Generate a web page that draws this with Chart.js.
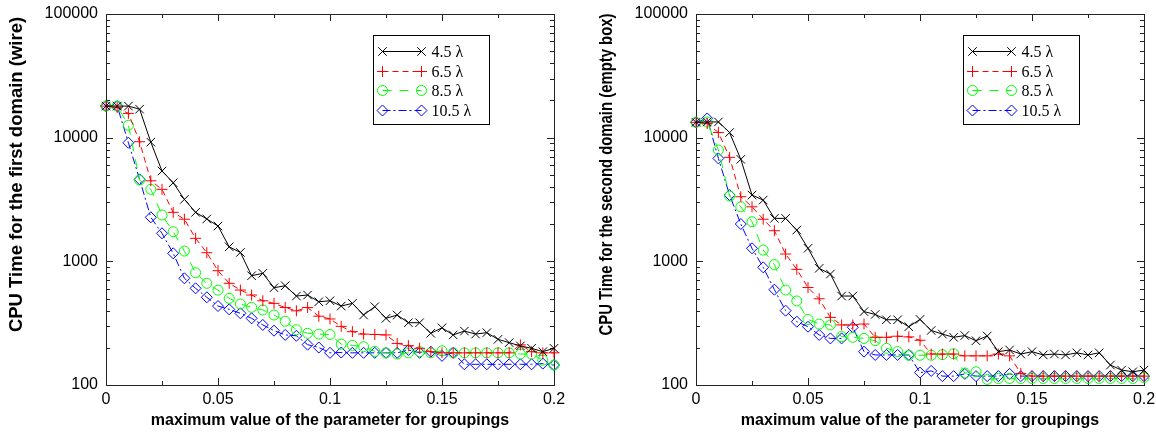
<!DOCTYPE html>
<html><head><meta charset="utf-8">
<script src="https://cdn.jsdelivr.net/npm/chart.js@4/dist/chart.umd.min.js"></script>
<style>
html,body{margin:0;padding:0;background:#fff;overflow:hidden;width:1156px;height:432px}
.box{position:absolute;top:0;width:566px;height:432px}
#b1{left:0}#b2{left:590px}
</style></head><body>
<div class="box" id="b1"><canvas id="c1" width="566" height="432"></canvas></div>
<div class="box" id="b2"><canvas id="c2" width="566" height="432"></canvas></div>
<script>
// ---- data ----
const xValues = [0,0.005,0.01,0.015,0.02,0.025,0.03,0.035,0.04,0.045,0.05,0.055,0.06,0.065,0.07,0.075,0.08,0.085,0.09,0.095,0.1,0.105,0.11,0.115,0.12,0.125,0.13,0.135,0.14,0.145,0.15,0.155,0.16,0.165,0.17,0.175,0.18,0.185,0.19,0.195,0.2];
const seriesNames = ['4.5 \u03bb','6.5 \u03bb','8.5 \u03bb','10.5 \u03bb'];
const wire45 = [18000,18000,18000,17000,9200,5370,4320,3170,2490,2200,1930,1310,1180,765,800,612,635,524,534,471,480,435,457,368,430,346,368,319,319,262,290,254,273,258,265,234,220,207,198,186,198];
const wire65 = [18000,17500,15700,9270,4480,3820,2490,2190,1535,1174,840,664,586,534,480,457,423,398,423,360,342,298,270,258,256,254,217,208,198,186,182,182,182,182,182,182,182,211,186,182,182];
const wire85 = [18000,18000,12600,4540,3820,2370,1735,1211,809,664,585,502,452,425,404,368,328,280,262,258,256,214,209,204,187,182,178,182,186,182,189,182,182,182,182,182,182,178,178,159,145];
const wire105 = [18000,18000,9100,4600,2270,1685,1161,729,605,512,435,409,380,346,306,275,254,250,212,201,182,183,182,182,182,182,182,192,182,186,172,182,147,147,147,147,147,147,147,149,145];
const box45 = [13300,13400,13400,11000,6680,3435,3130,2225,2225,1790,1274,878,789,524,524,392,372,337,337,296,339,276,258,243,251,228,249,186,192,178,186,175,178,175,182,175,182,145,132,128,132];
const box65 = [13300,13000,11000,6930,3330,2760,2190,1768,1146,861,614,498,352,306,306,311,243,243,248,245,230,178,178,178,172,172,172,178,172,124,118,118,118,118,118,118,118,118,118,118,118];
const box85 = [13300,13400,7940,3370,2760,2090,1234,940,586,478,339,311,306,246,243,238,228,198,186,174,174,174,176,179,125,128,111,113,113,113,113,113,113,113,113,113,113,113,113,113,115];
const box105 = [13300,14300,6800,3435,2003,1274,894,590,399,325,296,254,238,238,293,186,175,175,175,175,126,130,118,118,123,118,118,118,123,118,118,118,118,118,118,118,118,118,118,118,118];
const xTickValues = [0,0.05,0.1,0.15,0.2];
const xMinorTickValues = [0.025,0.075,0.125,0.175];
const yTickValues = [100,1000,10000,100000];
const xTitle = 'maximum value of the parameter for groupings';
const yTitle1 = 'CPU Time for the first domain (wire)';
const yTitle2 = 'CPU Time for the second domain (empty box)';

// ---- styles ----
const styles = [
  {color:'#000000', dash:[], point:'crossRot', radius:6},
  {color:'#ff0000', dash:[6,4], point:'cross', radius:5.5},
  {color:'#00ff00', dash:[9,8], point:'circle', radius:5},
  {color:'#0000ff', dash:[8,3,2,3], point:'rectRot', radius:5.5}
];
const SANS = '"Liberation Sans", Arial, Helvetica, sans-serif';
const SERIF = '"Liberation Serif", "Times New Roman", serif';

function makeDatasets(arrs){
  return arrs.map((arr,k)=>({
    label: seriesNames[k],
    data: arr.map((v,i)=>({x:xValues[i], y:v})),
    borderColor: styles[k].color,
    backgroundColor: 'rgba(0,0,0,0)',
    borderWidth: 1,
    borderDash: styles[k].dash,
    pointStyle: styles[k].point,
    pointRadius: styles[k].radius,
    pointBorderColor: styles[k].color,
    pointBackgroundColor: 'rgba(0,0,0,0)',
    pointBorderWidth: 1,
    tension: 0,
    fill: false,
    clip: false
  }));
}

function drawMarker(ctx, style, r, x, y){
  if (Chart.helpers && Chart.helpers.drawPoint) {
    Chart.helpers.drawPoint(ctx, {pointStyle: style, radius: r, rotation: 0, borderWidth: 1}, x, y);
  }
}

const framePlugin = {
  id: 'frameTicks',
  beforeDatasetsDraw(chart){
    const {ctx, chartArea: a, scales} = chart;
    ctx.save();
    ctx.strokeStyle = '#222';
    ctx.lineWidth = 1;
    ctx.strokeRect(a.left+0.5, a.top+0.5, a.right-a.left, a.bottom-a.top);
    ctx.beginPath();
    const tick = (v, len, horiz) => {
      if (horiz) {
        const px = Math.round(scales.x.getPixelForValue(v))+0.5;
        ctx.moveTo(px, a.bottom); ctx.lineTo(px, a.bottom-len);
        ctx.moveTo(px, a.top); ctx.lineTo(px, a.top+len);
      } else {
        const py = Math.round(scales.y.getPixelForValue(v))+0.5;
        ctx.moveTo(a.left, py); ctx.lineTo(a.left+len, py);
        ctx.moveTo(a.right, py); ctx.lineTo(a.right-len, py);
      }
    };
    xTickValues.forEach(v=>tick(v,7,true));
    xMinorTickValues.forEach(v=>tick(v,4,true));
    yTickValues.forEach((v,i)=>{
      tick(v,7,false);
      if (i < yTickValues.length-1) for (let m=2;m<=9;m++) tick(v*m,4,false);
    });
    ctx.stroke();
    ctx.restore();
  },
  afterDraw(chart){
    const {ctx, chartArea: a} = chart;
    const opts = chart.options.plugins.frameTicks;
    // y title (fitted to the length it has in the reference)
    ctx.save();
    ctx.fillStyle = '#000';
    ctx.font = 'bold 18.5px ' + SANS;
    ctx.textAlign = 'center';
    ctx.textBaseline = 'middle';
    const w = ctx.measureText(opts.yTitle).width;
    const sx = Math.min(1, opts.yTitleLen / w);
    ctx.translate(17, (a.top+a.bottom)/2 - 25);
    ctx.rotate(-Math.PI/2);
    ctx.scale(sx, 1);
    ctx.fillText(opts.yTitle, 0, 0);
    ctx.restore();
    // legend
    ctx.save();
    const bx = a.right - 181.5, by = a.top + 21, bw = 115.5, bh = 88.5;
    ctx.fillStyle = '#fff';
    ctx.fillRect(bx, by, bw, bh);
    ctx.strokeStyle = '#000';
    ctx.lineWidth = 1;
    ctx.strokeRect(Math.round(bx)+0.5, Math.round(by)+0.5, Math.round(bw), Math.round(bh));
    chart.data.datasets.forEach((ds,k)=>{
      const y = Math.round(by + 16 + k*19.5) + 0.5;
      const x0 = bx + 10, x1 = bx + 49;
      ctx.save();
      ctx.strokeStyle = ds.borderColor;
      ctx.lineWidth = 1;
      ctx.setLineDash(ds.borderDash);
      ctx.beginPath(); ctx.moveTo(x0,y); ctx.lineTo(x1,y); ctx.stroke();
      ctx.setLineDash([]);
      ctx.fillStyle = 'rgba(0,0,0,0)';
      drawMarker(ctx, ds.pointStyle, ds.pointRadius, x0, y);
      drawMarker(ctx, ds.pointStyle, ds.pointRadius, x1, y);
      ctx.restore();
      ctx.fillStyle = '#000';
      ctx.font = '16px ' + SERIF;
      ctx.textAlign = 'left';
      ctx.textBaseline = 'middle';
      ctx.fillText(ds.label, bx + 59, y + 1);
    });
    ctx.restore();
  }
};

function makeChart(id, arrs, yTitle, yTitleLen){
  return new Chart(document.getElementById(id), {
    type: 'line',
    data: {datasets: makeDatasets(arrs)},
    plugins: [framePlugin],
    options: {
      responsive: false,
      animation: false,
      devicePixelRatio: 1,
      layout: {padding: {top: 14, right: 12, left: 0, bottom: 0}},
      plugins: {legend: {display: false}, tooltip: {enabled: false},
                frameTicks: {yTitle: yTitle, yTitleLen: yTitleLen}},
      scales: {
        x: {
          type: 'linear', min: 0, max: 0.2,
          grid: {display: false, drawTicks: false},
          border: {display: false},
          afterBuildTicks: s => { s.ticks = xTickValues.map(v => ({value: v})); },
          ticks: {padding: 5, color: '#000', maxRotation: 0, autoSkip: false,
                  font: {family: SANS, size: 16}, callback: v => String(v)},
          title: {display: true, text: xTitle, color: '#000',
                  font: {family: SANS, size: 16, weight: 'bold'}, padding: {top: 0, bottom: 2}},
          afterFit: s => { s.height = 47; s.paddingLeft = 0; s.paddingRight = 0; }
        },
        y: {
          type: 'logarithmic', min: 100, max: 100000,
          grid: {display: false, drawTicks: false},
          border: {display: false},
          afterBuildTicks: s => { s.ticks = yTickValues.map(v => ({value: v})); },
          ticks: {padding: 8, color: '#000', autoSkip: false,
                  font: {family: SANS, size: 16}, callback: v => String(v)},
          afterFit: s => { s.width = 106; s.paddingTop = 0; s.paddingBottom = 0; }
        }
      }
    }
  });
}

makeChart('c1', [wire45, wire65, wire85, wire105], yTitle1, 316);
makeChart('c2', [box45, box65, box85, box105], yTitle2, 322);
</script>
</body></html>
